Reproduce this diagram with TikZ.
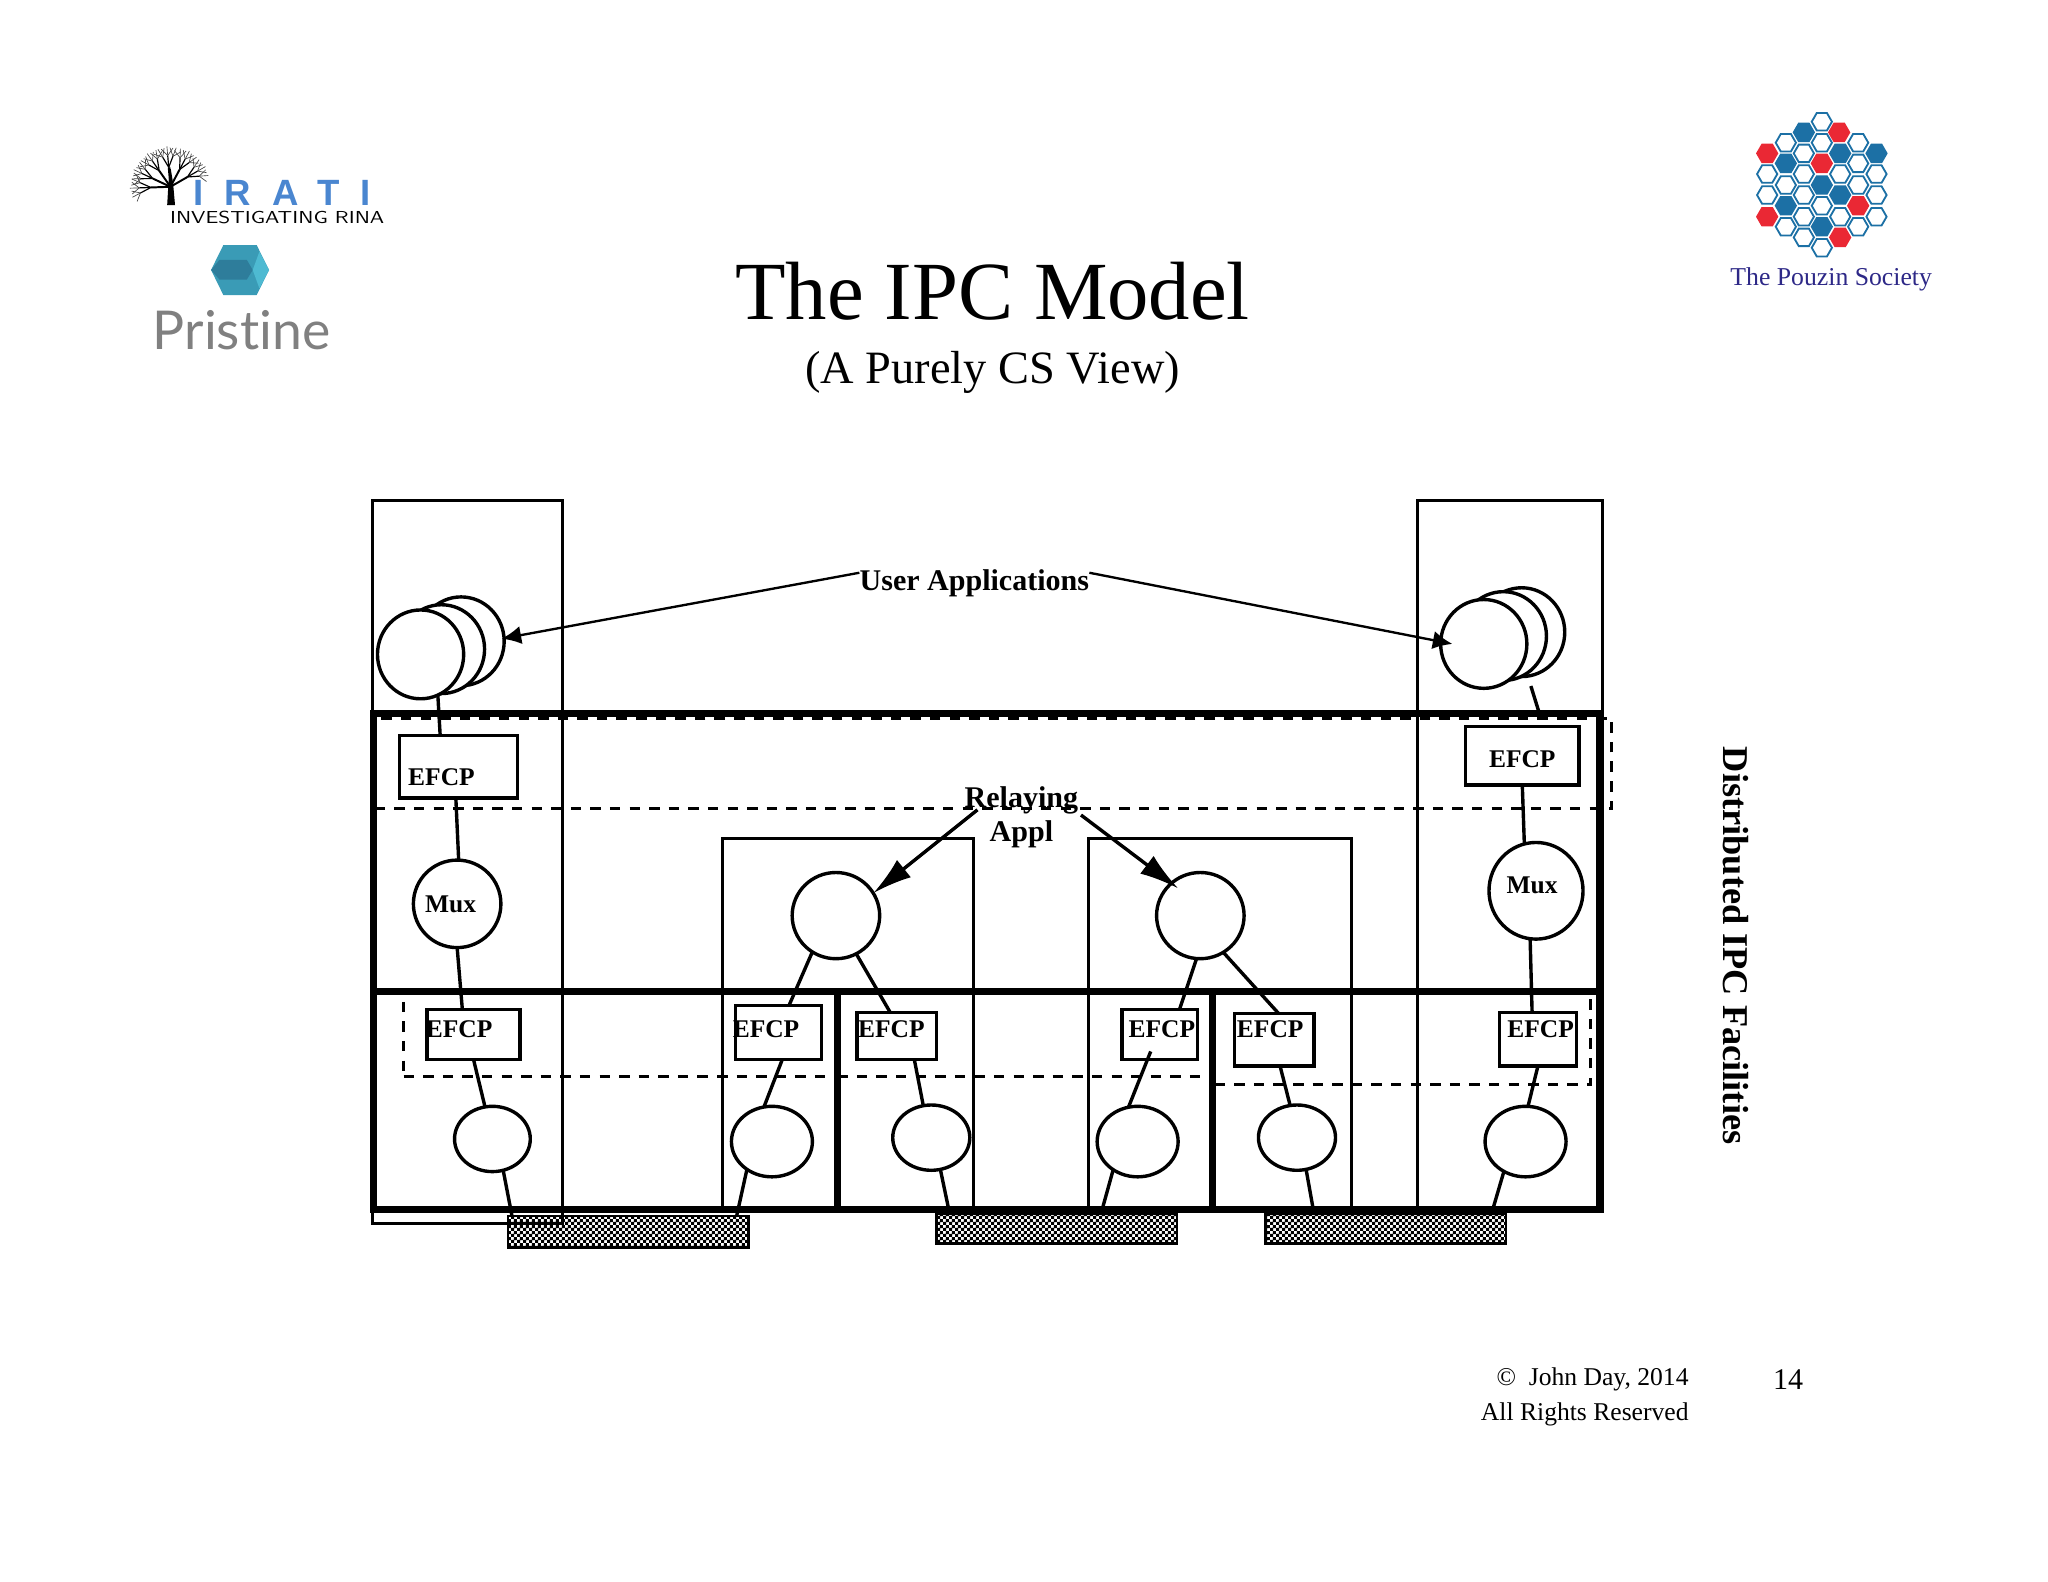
\documentclass[tikz,border=0pt]{standalone}
\usepackage{fontspec}
\setmainfont{Liberation Serif}
\newfontfamily\iratifont[LetterSpace=58]{Liberation Sans}
\newfontfamily\pristinefont[Ligatures=NoCommon]{Lato}
\usetikzlibrary{arrows.meta, patterns, shapes, positioning}
\pgfdeclarepatternformonly{finecheck}{\pgfqpoint{0pt}{0pt}}{\pgfqpoint{4.4pt}{4.4pt}}{\pgfqpoint{4.4pt}{4.4pt}}{
    \pgfpathrectangle{\pgfqpoint{0pt}{0pt}}{\pgfqpoint{2.4pt}{2.4pt}}
    \pgfpathrectangle{\pgfqpoint{2.2pt}{2.2pt}}{\pgfqpoint{2.4pt}{2.4pt}}
    \pgfusepath{fill}
}
\tikzset{
    textnode/.style  = {draw=none, fill=none, rectangle, inner sep = 0em, node distance=0em},
    boldtext/.style  = {textnode, font=\fontsize{23}{26}\selectfont\bfseries},
    efcptext/.style  = {textnode, font=\fontsize{19.5}{22}\selectfont\bfseries},
    hostnode/.style  = {draw, rectangle, fill=none, line width=2.3pt, inner sep=0em, outer sep=0em, node distance=0em},
    difnode/.style   = {draw, rectangle, fill=none, line width=5.5pt, inner sep=0em, outer sep=0em, node distance=0em},
    dashnode/.style  = {draw, rectangle, fill=none, line width=2.2pt, dash pattern=on 8pt off 7pt, inner sep=0em, outer sep=0em, node distance=0em},
    efcpnode/.style  = {draw, rectangle, fill=white, line width=2.6pt, inner sep=0em, outer sep=0em, node distance=0em},
    ellipsenode/.style = {draw, ellipse, fill=white, line width=2.6pt, inner sep=0em, outer sep=0em, node distance=0em},
    hatchnode/.style = {draw, rectangle, line width=2pt, pattern=finecheck, inner sep=0em, outer sep=0em, node distance=0em},
    connect/.style   = {line width=2.6pt},
    userarrow/.style = {line width=1.8pt, -{Latex[length=15pt,width=14pt]}},
    relayarrow/.style = {line width=2.6pt, -{Latex[length=30pt,width=17pt]}},
    hexnode/.style   = {draw=hexblue, regular polygon, regular polygon sides=6, minimum size=15.5pt, line width=1.4pt, inner sep=0em, outer sep=0em},
    hexw/.style      = {hexnode, fill=white},
    hexb/.style      = {hexnode, fill=hexblue},
    hexr/.style      = {hexnode, draw=hexred, fill=hexred},
    every text node part/.style={align=center}
}
\definecolor{hexblue}{RGB}{28, 112, 165}
\definecolor{hexred}{RGB}{234, 40, 52}
\definecolor{iratiblue}{RGB}{74, 134, 208}
\definecolor{pouzin}{RGB}{45, 40, 135}
\definecolor{tealmid}{RGB}{58, 155, 182}
\definecolor{tealdark}{RGB}{46, 125, 155}
\definecolor{teallight}{RGB}{78, 186, 210}
\begin{document}
\begin{tikzpicture}[x=1pt, y=-1pt]
    \useasboundingbox (0,0) rectangle (1568,1211);

    \node[textnode, name=Title, font=\fontsize{63.3}{70}\selectfont] at (760,223) {The IPC Model};
    \node[textnode, name=SubTitle, below of=Title, yshift=-62, font=\fontsize{35.5}{40}\selectfont] {(A Purely CS View)};

    \fill[black] (128,157) -- (129,140) -- (130.5,128) -- (132.5,140) -- (134,157) -- cycle;
    \coordinate (TreeFork) at (130.5,143);
    \foreach \a in {30,62,95,125,155,182}{
        \draw[line width=1.5pt] (TreeFork) -- ++(\a:15pt) coordinate (TreeA);
        \foreach \b in {-26,0,26}{
            \draw[line width=0.9pt] (TreeA) -- ++(\a+\b:9pt) coordinate (TreeB);
            \foreach \c in {-40,0,40}{
                \draw[line width=0.5pt, black!75] (TreeB) -- ++(\a+\b+\c:7pt);
            }
        }
    }
    \node[textnode, name=Irati, anchor=west, text=iratiblue, font=\fontsize{28}{30}\selectfont\iratifont\bfseries] at (148,147.5) {IRATI};
    \node[textnode, name=IratiSub, anchor=west] at (130,166.5) {\resizebox{164pt}{9.5pt}{\sffamily INVESTIGATING RINA}};
    \fill[tealmid] (161.6,206.7) -- (171,187.6) -- (196.5,187.6) -- (206,206.7) -- (196.5,225.9) -- (171,225.9) -- cycle;
    \fill[tealdark] (161.6,206.7) -- (168,199) -- (189,199) -- (193.5,206.7) -- (189,214) -- (168,214) -- cycle;
    \fill[teallight] (198.6,192.7) -- (206,206.7) -- (198.6,220.8) -- (193.5,206.7) -- cycle;
    \node[textnode, name=Pristine, text=black!50, font=\fontsize{41}{44}\selectfont\pristinefont] at (185,253) {Pristine};

    \foreach \hx/\hy/\hs in {305/65/hexw, 251/97/hexb, 357/97/hexr, 197/128/hexw, 305/128/hexw, 414/128/hexw,
        141/160/hexr, 251/160/hexw, 360/160/hexb, 469/160/hexb, 197/190/hexb, 305/190/hexr, 414/190/hexw,
        141/222/hexw, 251/222/hexw, 360/222/hexw, 469/222/hexw, 197/255/hexw, 305/255/hexb, 414/255/hexw,
        141/285/hexw, 251/285/hexw, 360/285/hexb, 469/285/hexw, 197/317/hexb, 305/317/hexw, 414/317/hexr,
        141/350/hexr, 251/350/hexw, 360/350/hexw, 469/350/hexw, 197/380/hexw, 305/380/hexb, 414/380/hexw,
        251/412/hexw, 360/412/hexr, 305/443/hexw}
        \node[\hs, name=Hex\hx\hy] at ({1317+0.2552*\hx},{76.6+0.2552*\hy}) {};
    \node[textnode, name=Pouzin, text=pouzin, font=\fontsize{19.7}{22}\selectfont] at (1402,214) {The Pouzin Society};

    \node[hostnode, name=HostL, minimum width=146pt, minimum height=554pt] at (358,660) {};
    \node[hostnode, name=HostR, minimum width=142pt, minimum height=543pt] at (1156,654.5) {};
    \node[hostnode, name=RelayHostA, minimum width=192pt, minimum height=284pt] at (649,784) {};
    \node[hostnode, name=RelayHostB, minimum width=202pt, minimum height=284pt] at (934,784) {};

    \node[dashnode, name=DashTop, minimum width=947pt, minimum height=69pt] at (760.5,584.5) {};
    \node[dashnode, name=DashA, minimum width=331pt, minimum height=65pt] at (474.5,791.5) {};
    \node[dashnode, name=DashB, minimum width=287pt, minimum height=65pt] at (784.5,791.5) {};
    \node[dashnode, name=DashC, minimum width=288pt, minimum height=71pt] at (1074,794.5) {};

    \node[difnode, name=DifTop, minimum width=939pt, minimum height=213pt] at (755.5,652.5) {};
    \node[difnode, name=DifA, minimum width=355pt, minimum height=167pt] at (463.5,842.5) {};
    \node[difnode, name=DifB, minimum width=287pt, minimum height=167pt] at (784.5,842.5) {};
    \node[difnode, name=DifC, minimum width=297pt, minimum height=167pt] at (1076.5,842.5) {};

    \node[hatchnode, name=HatchA, minimum width=184pt, minimum height=24pt] at (481,943) {};
    \node[hatchnode, name=HatchB, right of=HatchA, xshift=328, yshift=2.5, minimum width=184pt, minimum height=23pt] {};
    \node[hatchnode, name=HatchC, right of=HatchB, xshift=252, minimum width=184pt, minimum height=23pt] {};

    \node[ellipsenode, name=AppLC, minimum width=66pt, minimum height=68pt] at (353,491) {};
    \node[ellipsenode, name=AppLB, left of=AppLC, xshift=-15, yshift=-6, minimum width=66pt, minimum height=68pt] {};
    \node[ellipsenode, name=AppLA, left of=AppLB, xshift=-16, yshift=-4, minimum width=66pt, minimum height=68pt] {};

    \node[ellipsenode, name=AppRC, minimum width=66pt, minimum height=68pt] at (1165,484) {};
    \node[ellipsenode, name=AppRB, left of=AppRC, xshift=-14, yshift=-3, minimum width=66pt, minimum height=68pt] {};
    \node[ellipsenode, name=AppRA, left of=AppRB, xshift=-15, yshift=-6, minimum width=66pt, minimum height=68pt] {};

    \node[efcpnode, name=EfcpTL, below of=AppLA, xshift=29, yshift=-86, minimum width=90pt, minimum height=48pt] {};
    \node[efcptext, name=EfcpTextTL, right of=EfcpTL, xshift=-13, yshift=-8] {EFCP};
    \node[ellipsenode, name=MuxL, below of=EfcpTL, xshift=-1, yshift=-105, minimum width=67pt, minimum height=67pt] {};
    \node[efcptext, name=MuxTextL, right of=MuxL, xshift=-5, yshift=0] {Mux};
    \node[efcpnode, name=EfcpA, below of=MuxL, xshift=12.5, yshift=-100, minimum width=71pt, minimum height=38pt] {};
    \node[efcptext, name=EfcpTextA, right of=EfcpA, xshift=-11, yshift=4] {EFCP};
    \node[ellipsenode, name=EllA, below of=EfcpA, xshift=14.5, yshift=-80, minimum width=58pt, minimum height=50pt] {};

    \node[ellipsenode, name=RelayA, above of=RelayHostA, xshift=-9, yshift=83, minimum width=67pt, minimum height=66pt] {};
    \node[efcpnode, name=EfcpB, below of=RelayA, xshift=-44, yshift=-89.5, minimum width=66pt, minimum height=41pt] {};
    \node[efcptext, name=EfcpTextB, right of=EfcpB, xshift=-9.5, yshift=2.5] {EFCP};
    \node[efcpnode, name=EfcpC, below of=RelayA, xshift=46.5, yshift=-92, minimum width=61pt, minimum height=36pt] {};
    \node[efcptext, name=EfcpTextC, right of=EfcpC, xshift=-4, yshift=5] {EFCP};
    \node[ellipsenode, name=EllB, below of=EfcpB, xshift=-5, yshift=-83.5, minimum width=62pt, minimum height=54pt] {};
    \node[ellipsenode, name=EllC, below of=EfcpC, xshift=26.5, yshift=-78, minimum width=59pt, minimum height=50pt] {};

    \node[ellipsenode, name=RelayB, above of=RelayHostB, xshift=-15, yshift=83, minimum width=67pt, minimum height=66pt] {};
    \node[efcpnode, name=EfcpD, below of=RelayB, xshift=-31, yshift=-91, minimum width=58pt, minimum height=38pt] {};
    \node[efcptext, name=EfcpTextD, right of=EfcpD, xshift=1.5, yshift=4] {EFCP};
    \node[efcpnode, name=EfcpE, below of=RelayB, xshift=56.5, yshift=-95, minimum width=61pt, minimum height=40pt] {};
    \node[efcptext, name=EfcpTextE, right of=EfcpE, xshift=-3, yshift=8] {EFCP};
    \node[ellipsenode, name=EllD, below of=EfcpD, xshift=-17, yshift=-82, minimum width=62pt, minimum height=54pt] {};
    \node[ellipsenode, name=EllE, below of=EfcpE, xshift=17.5, yshift=-75, minimum width=59pt, minimum height=50pt] {};

    \node[efcpnode, name=EfcpTR, below of=AppRA, xshift=29.5, yshift=-85.5, minimum width=87pt, minimum height=45pt] {};
    \node[efcptext, name=EfcpTextTR, right of=EfcpTR, xshift=0, yshift=-3] {EFCP};
    \node[ellipsenode, name=MuxR, below of=EfcpTR, xshift=10.5, yshift=-103.5, minimum width=72pt, minimum height=74pt] {};
    \node[efcptext, name=MuxTextR, right of=MuxR, xshift=-3, yshift=4] {Mux};
    \node[efcpnode, name=EfcpF, below of=MuxR, xshift=1.5, yshift=-113.5, minimum width=59pt, minimum height=41pt] {};
    \node[efcptext, name=EfcpTextF, right of=EfcpF, xshift=2, yshift=7.5] {EFCP};
    \node[ellipsenode, name=EllF, below of=EfcpF, xshift=-9.5, yshift=-78.5, minimum width=62pt, minimum height=54pt] {};

    \draw[connect] (AppLA.-67) edge ([xshift=-14]EfcpTL.north);
    \draw[connect] ([xshift=-2]EfcpTL.south) edge (MuxL.88);
    \draw[connect] (MuxL.south) edge ([xshift=-8.5]EfcpA.north);
    \draw[connect] (EfcpA.south) edge (EllA.103);
    \draw[connect] (EllA.-71) edge ([xshift=3]HatchA.north west);
    \draw[connect] (RelayA.-123) edge ([xshift=8]EfcpB.north);
    \draw[connect] (RelayA.-62) edge ([xshift=-5]EfcpC.north);
    \draw[connect] ([xshift=3]EfcpB.south) edge (EllB.103);
    \draw[connect] ([xshift=13.5]EfcpC.south) edge (EllC.104);
    \draw[connect] (EllB.-132) edge ([xshift=-9]HatchA.north east);
    \draw[connect] (EllC.-74) edge ([xshift=10]HatchB.north west);
    \draw[connect] (RelayB.-95) edge ([xshift=15]EfcpD.north);
    \draw[connect] (RelayB.-58) edge ([xshift=3.5]EfcpE.north);
    \draw[connect] ([xshift=-7,yshift=6]EfcpD.south) edge (EllD.105);
    \draw[connect] ([xshift=4.5]EfcpE.south) edge (EllE.102);
    \draw[connect] (EllD.-131) edge ([xshift=126]HatchB.north west);
    \draw[connect] (EllE.-74) edge ([xshift=37]HatchC.north west);
    \draw[connect] ([yshift=-8]AppRC.-78) edge ([xshift=13,yshift=10]EfcpTR.north);
    \draw[connect] (EfcpTR.south) edge (MuxR.104);
    \draw[connect] (MuxR.-97) edge ([xshift=-4.5]EfcpF.north);
    \draw[connect] (EfcpF.south) edge (EllF.86);
    \draw[connect] (EllF.-126) edge ([xshift=173]HatchC.north west);

    \node[boldtext, name=UserAppl] at (746,446.5) {User Applications};
    \draw ([yshift=8]UserAppl.west) edge[userarrow] ([xshift=-2,yshift=2]AppLC.east);
    \draw ([yshift=8]UserAppl.east) edge[userarrow] ([xshift=9]AppRA.west);

    \node[boldtext, name=RelayAppl] at (782,626) {Relaying\\Appl};
    \draw ([xshift=10,yshift=6]RelayAppl.west) edge[relayarrow] (RelayA.31);
    \draw ([xshift=2,yshift=2]RelayAppl.east) edge[relayarrow] ([xshift=4,yshift=-5]RelayB.129);

    \node[boldtext, name=DifLabel, rotate=-90, font=\fontsize{27.8}{30}\selectfont\bfseries] at (1329,724) {Distributed IPC Facilities};

    \node[textnode, name=Copyright, anchor=east, font=\fontsize{19.6}{22}\selectfont] at (1293,1056) {\textcopyright\ \ John Day, 2014};
    \node[textnode, name=Rights, anchor=east, font=\fontsize{19.6}{22}\selectfont] at (1293,1083) {All Rights Reserved};
    \node[textnode, name=PageNo, font=\fontsize{23}{26}\selectfont] at (1369,1056) {14};
\end{tikzpicture}
\end{document}
